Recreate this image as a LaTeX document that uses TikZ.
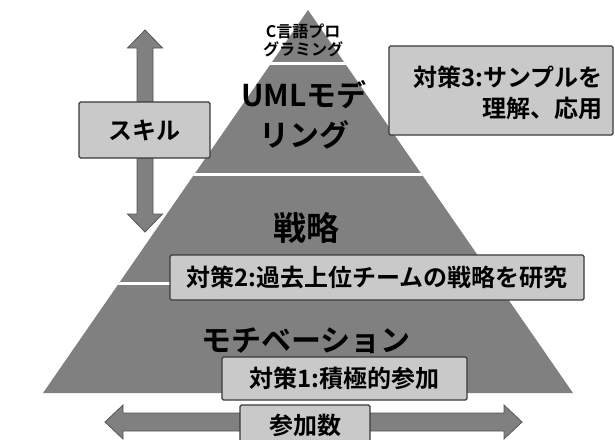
\documentclass[tikz,border=0pt]{standalone}
\usepackage{fontspec}
\setmainfont{Noto Sans CJK JP}[BoldFont={Noto Sans CJK JP Bold}]
\definecolor{pyr}{HTML}{808080}
\definecolor{boxfill}{HTML}{C9C9C9}
\definecolor{boxline}{HTML}{3A3A3A}
\definecolor{arrfill}{HTML}{808080}
\definecolor{arrline}{HTML}{555555}
\begin{document}
\begin{tikzpicture}[x=1pt,y=-1pt,
  lbl/.style={draw=boxline, fill=boxfill, line width=1.3pt, rounded corners=1.5pt, inner sep=0pt,
    font=\bfseries\fontsize{24}{28}\selectfont},
  big/.style={inner sep=0pt, font=\bfseries\fontsize{30}{40}\selectfont, align=center},
  arr/.style={fill=arrfill, draw=arrline, line width=0.8pt, line join=miter}]
\useasboundingbox (0,0) rectangle (615,439);
\fill[white] (0,0) rectangle (615,439);
% pyramid
\begin{scope}
\clip (308,10) -- (573,393) -- (43,393) -- cycle;
\fill[pyr] (0,0) rectangle (615,439);
\draw[white, line width=3pt] (0,63) -- (615,63) (0,174) -- (615,174) (0,283) -- (615,283);
\end{scope}
% arrows
\filldraw[arr] (145,30) -- (162.5,48) -- (153,48) -- (153,214) -- (162.5,214) -- (145,232)
  -- (127.5,214) -- (137,214) -- (137,48) -- (127.5,48) -- cycle;
\filldraw[arr] (105,422) -- (123,405) -- (123,413) -- (504,413) -- (504,405) -- (522,422)
  -- (504,439) -- (504,431) -- (123,431) -- (123,439) -- cycle;
% layer texts
\node[inner sep=0pt, align=center, font=\bfseries\fontsize{16}{18}\selectfont] (tip) at (303,40) {C言語プロ\\グラミング};
\node[big] (uml) at (304,115) {UMLモデ\\リング};
\node[big, font=\bfseries\fontsize{33}{40}\selectfont] (senryaku) at (306,228) {戦略};
\node[big] (motiv) at (306,341) {モチベーション};
% boxes
\node[lbl, minimum width=131pt, minimum height=56pt] (skill) at (144.5,130) {スキル};
\node[lbl, minimum width=224pt, minimum height=89pt] (t3) at (501,90.5) {};
\node[inner sep=0pt, align=right, anchor=east, font=\bfseries\fontsize{24}{31}\selectfont] (t3txt) at (603,92.5) {対策3:サンプルを\\理解、応用};
\node[lbl, minimum width=414pt, minimum height=45pt] (t2) at (377,277.5) {対策2:過去上位チームの戦略を研究};
\node[lbl, minimum width=245pt, minimum height=43pt] (t1) at (344.5,378.5) {対策1:積極的参加};
\node[lbl, minimum width=130pt, minimum height=40pt] (num) at (305,425) {参加数};
\end{tikzpicture}
\end{document}
